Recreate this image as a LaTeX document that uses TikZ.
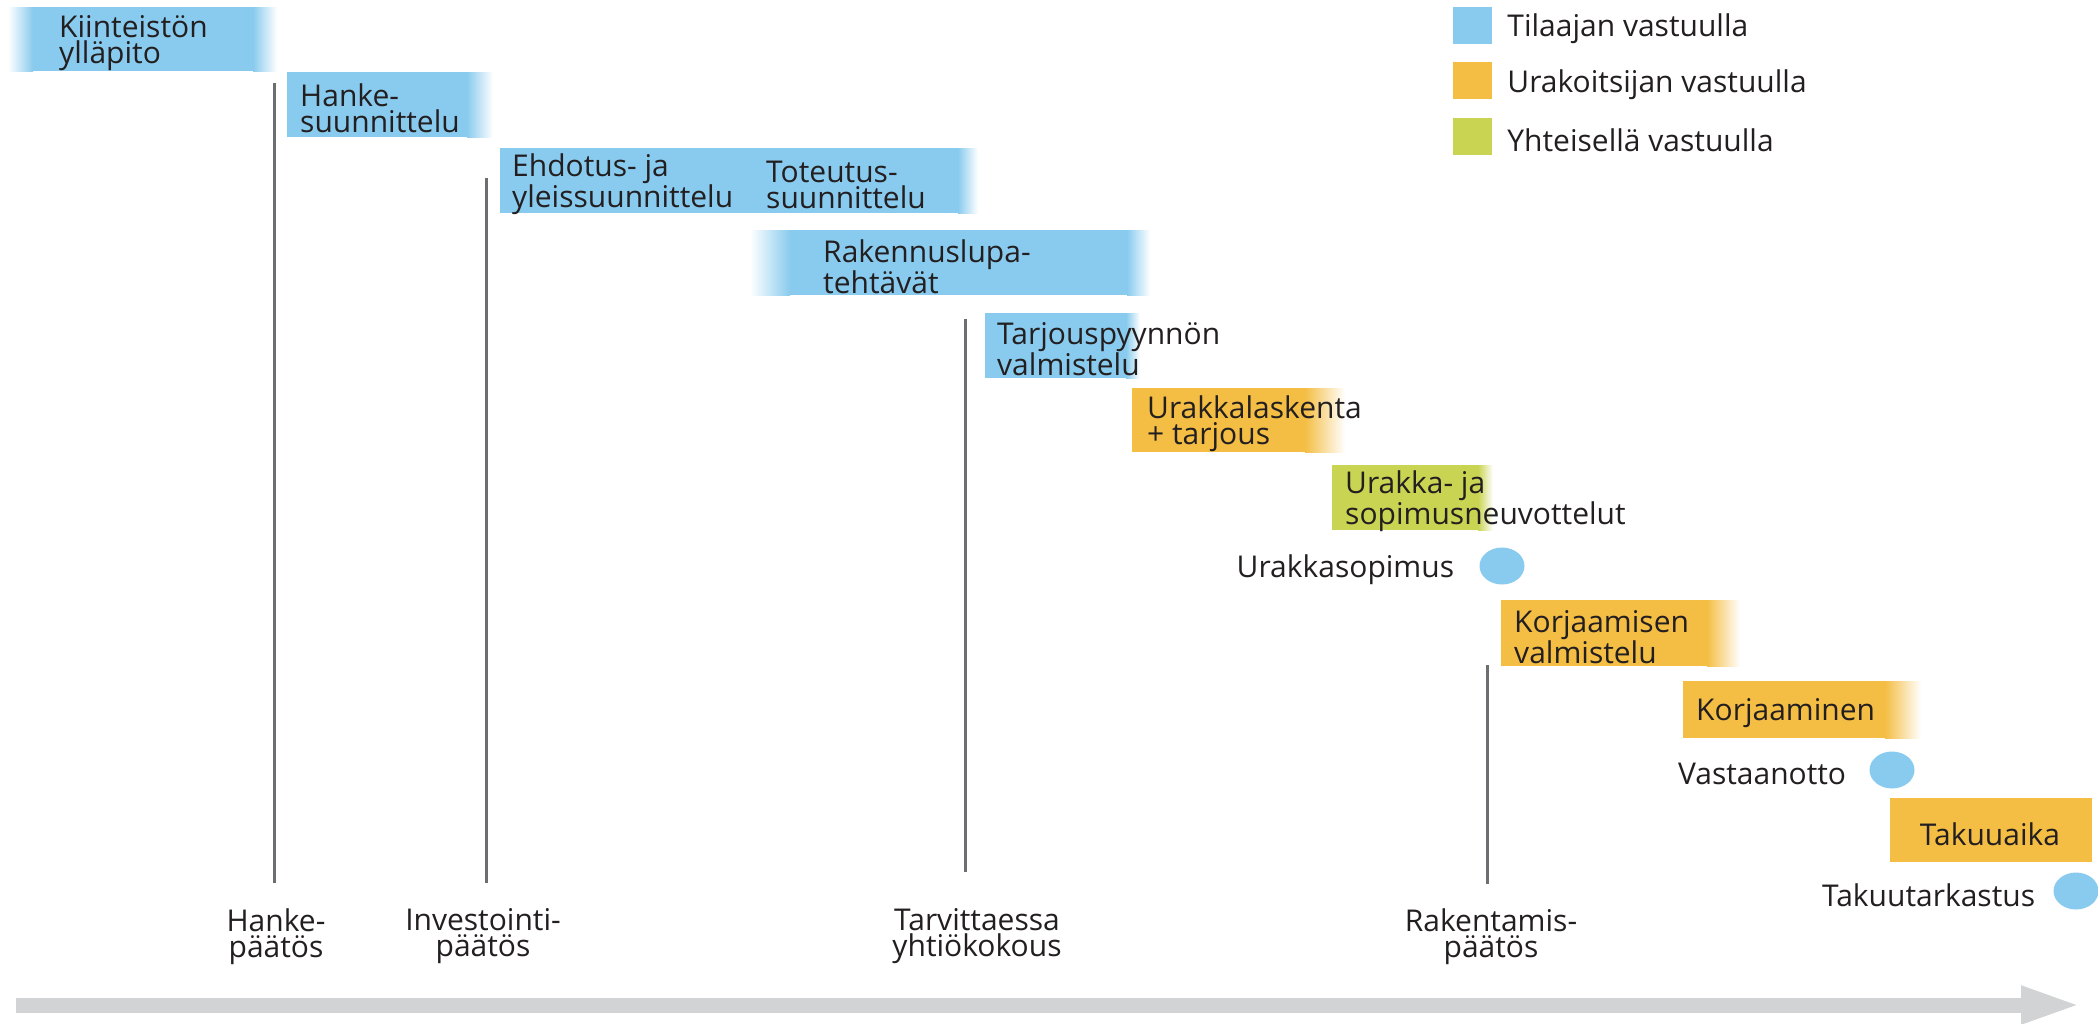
\documentclass[tikz,border=0pt]{standalone}
\usepackage{fontspec}
\setmainfont{Open Sans}
\usetikzlibrary{positioning, arrows.meta, shapes.geometric}

\definecolor{tilaaja}{RGB}{137,203,238}
\definecolor{urakoitsija}{RGB}{244,190,69}
\definecolor{yhteinen}{RGB}{201,212,82}
\definecolor{pylvas}{RGB}{109,110,113}
\definecolor{aikajana}{RGB}{209,211,212}
\definecolor{teksti}{RGB}{35,31,32}

\tikzset{
	phase/.style={inner sep=0pt, align=left, anchor=west, yshift=-4pt, text=teksti, font={\fontsize{30}{26}\selectfont}},
	decision/.style={inner sep=0pt, align=center, anchor=north, text=teksti, font={\fontsize{30}{26}\selectfont}},
	milestone/.style={ellipse, fill=tilaaja, minimum width=45pt, minimum height=37pt, inner sep=0pt},
	ridge/.style={pylvas, line width=3pt},
	timeline/.style={aikajana, line width=15pt, -{Triangle[length=61pt,width=34pt]}},
	keybox/.style={minimum width=39pt, minimum height=37pt, inner sep=0pt}
}

% bar with faded ends: x1, x2, y1, y2, colour, left fade, right fade
\newcommand{\phasebar}[7]{%
	\fill[#5] ({#1+#6-0.5},#3) rectangle ({#2-#7+0.5},#4);
	\ifdim #6pt>0pt \shade[left color=white, right color=#5] (#1,#3) rectangle ({#1+#6},#4); \fi
	\ifdim #7pt>0pt \shade[left color=#5, right color=white] ({#2-#7},#3) rectangle (#2,#4); \fi
}

\begin{document}
\begin{tikzpicture}[x=1pt, y=-1pt]
	\useasboundingbox (0,0) rectangle (2098,1023);

	% decisions
	\foreach \x/\top/\bot [count=\i] in {274/83/883, 486/178/883, 965/319/872, 1487/665/884}
	{
		\coordinate (top\i) at (\x,\top);
		\coordinate (bot\i) at (\x,\bot);
		\draw[ridge] (top\i) -- (bot\i);
	}

	\node[decision] (hankep) at (276,908) {Hanke-\\päätös};
	\node[decision] (investointip) at (483,908) {Investointi-\\päätös};
	\node[decision] (yhtiokokous) at (977,908) {Tarvittaessa\\yhtiökokous};
	\node[decision] (rakentamisp) at (1491,908) {Rakentamis-\\päätös};

	% phases
	\phasebar{8}{277}{7}{71}{tilaaja}{25}{24}
	\phasebar{287}{493}{72}{137}{tilaaja}{0}{26}
	\phasebar{500}{978}{148}{213}{tilaaja}{0}{20}
	\phasebar{750}{1150}{230}{295}{tilaaja}{40}{23}
	\phasebar{985}{1140}{313}{378}{tilaaja}{0}{14}
	\phasebar{1132}{1345}{388}{452}{urakoitsija}{0}{40}
	\phasebar{1332}{1493}{465}{530}{yhteinen}{0}{15}
	\phasebar{1501}{1740}{600}{666}{urakoitsija}{0}{33}
	\phasebar{1683}{1921}{681}{738}{urakoitsija}{0}{36}
	\phasebar{1890}{2091}{798}{862}{urakoitsija}{0}{0}

	\node[phase] (kiinteisto) at (59,39) {Kiinteistön\\ylläpito};
	\node[phase] (hanke) at (300,104.5) {Hanke-\\suunnittelu};
	\node[phase] (ehdotus) at (512,180.5) {Ehdotus- ja\\yleissuunnittelu};
	\node[phase] (toteutus) at (766,180.5) {Toteutus-\\suunnittelu};
	\node[phase] (rakennuslupa) at (823,263) {Rakennuslupa-\\tehtävät};
	\node[phase] (tarjous) at (997,345.5) {Tarjouspyynnön\\valmistelu};
	\node[phase] (laskenta) at (1147,420) {Urakkalaskenta\\+ tarjous};
	\node[phase] (neuvottelut) at (1345,497.5) {Urakka- ja\\sopimusneuvottelut};
	\node[phase] (valmistelu) at (1514,633) {Korjaamisen\\valmistelu};
	\node[phase] (korjaaminen) at (1696,709.5) {Korjaaminen};
	\node[phase, anchor=center] (takuuaika) at (1990,830) {Takuuaika};

	% milestones
	\node[milestone] (sopimus) at (1502,566) {};
	\node[phase, anchor=east, left=25pt of sopimus] (sopimust) {Urakkasopimus};
	\node[milestone] (vastaanotto) at (1892,770) {};
	\node[phase, anchor=east, left=23pt of vastaanotto] (vastaanottot) {Vastaanotto};
	\node[milestone] (tarkastus) at (2076,891) {};
	\node[phase, anchor=east, left=18pt of tarkastus] (tarkastust) {Takuutarkastus};

	% legend
	\foreach \c/\t [count=\i] in {tilaaja/Tilaajan vastuulla, urakoitsija/Urakoitsijan vastuulla, yhteinen/Yhteisellä vastuulla}
	{
		\node[keybox, fill=\c] (key\i) at (1472.5,{25+55.5*(\i-1)}) {};
		\node[phase, right=15pt of key\i] (keytext\i) {\t};
	}

	% time axis
	\coordinate (alku) at (16,1005);
	\coordinate (loppu) at (2082,1005);
	\draw[timeline] (alku) -- (loppu);
\end{tikzpicture}
\end{document}
